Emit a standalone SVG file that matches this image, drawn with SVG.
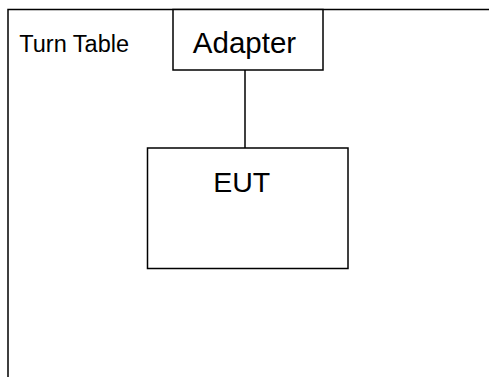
<svg xmlns="http://www.w3.org/2000/svg" width="489" height="377" viewBox="0 0 489 377">
<style>
.box{fill:#fff;stroke:#000;stroke-width:1.5}
.t{font-family:"Liberation Sans",Arial,sans-serif;fill:#000}
</style>
<rect width="489" height="377" fill="#fff"/>
<g id="turntable">
<path d="M8,377 V9.5 H489" fill="none" stroke="#000" stroke-width="1.5"/>
<text class="t" x="19.3" y="51.7" font-size="23.5" fill="#222">Turn Table</text>
</g>
<g id="connectors">
<line x1="245" y1="70" x2="245" y2="148" stroke="#000" stroke-width="1.5"/>
</g>
<g id="adapter">
<rect class="box" x="173" y="9.5" width="150" height="60.5"/>
<text class="t" x="244.5" y="53" font-size="29.5" text-anchor="middle">Adapter</text>
</g>
<g id="eut">
<rect class="box" x="147.5" y="148" width="200.5" height="120.5"/>
<text class="t" x="241.7" y="191.5" font-size="28.5" text-anchor="middle">EUT</text>
</g>
</svg>
